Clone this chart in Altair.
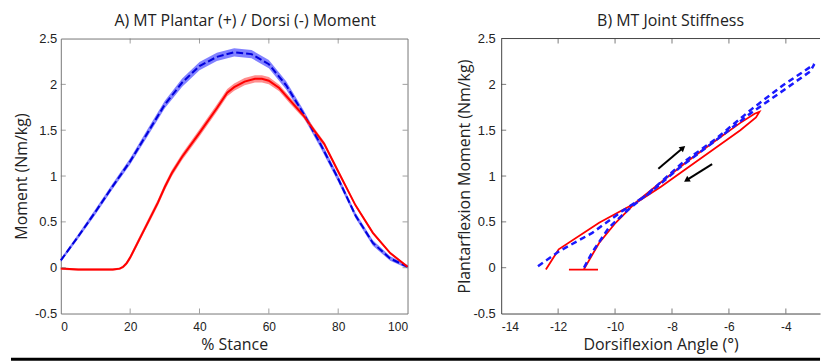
import altair as alt
import pandas as pd

# ---------------- Panel A: MT moment over stance ----------------
pct_blue = [0, 5, 10, 15, 20, 25, 30, 35, 40, 45, 50, 55, 60, 65, 70, 75, 80, 85, 90, 95, 100]
blue_mean = [0.08, 0.34, 0.61, 0.89, 1.16, 1.47, 1.78, 2.02, 2.20, 2.30, 2.35, 2.33, 2.22, 1.99,
             1.68, 1.34, 0.97, 0.57, 0.27, 0.10, 0.01]
blue_sd = [0.02, 0.025, 0.03, 0.03, 0.035, 0.04, 0.04, 0.045, 0.045, 0.045, 0.045, 0.045, 0.045,
           0.045, 0.04, 0.04, 0.035, 0.03, 0.03, 0.025, 0.02]

pct_red = [0, 5, 10, 15, 17, 18, 19, 20, 22, 24, 26, 28, 30, 32, 35, 40, 45, 48, 50, 53, 56, 58,
           60, 63, 66, 70, 73, 76, 80, 85, 90, 95, 100]
red_mean = [-0.01, -0.02, -0.02, -0.02, -0.01, 0.01, 0.05, 0.11, 0.26, 0.41, 0.56, 0.71, 0.88, 1.03,
            1.21, 1.47, 1.74, 1.91, 1.97, 2.03, 2.06, 2.06, 2.04, 1.96, 1.83, 1.66, 1.50, 1.35,
            1.05, 0.68, 0.38, 0.16, 0.01]
red_sd = [0.012, 0.012, 0.012, 0.012, 0.012, 0.015, 0.02, 0.025, 0.03, 0.03, 0.035, 0.035, 0.035,
          0.035, 0.035, 0.04, 0.04, 0.04, 0.04, 0.04, 0.04, 0.04, 0.04, 0.035, 0.035, 0.03, 0.03,
          0.025, 0.02, 0.015, 0.015, 0.012, 0.01]

a_xticks = [0, 20, 40, 60, 80, 100]
a_yticks = [-0.5, 0, 0.5, 1, 1.5, 2, 2.5]

# ---------------- Panel B: joint stiffness loops ----------------
blue_ang = [-11.09, -10.80, -10.21, -9.51, -8.80, -7.65, -6.48, -5.20, -4.10, -3.00,
            -3.15, -4.20, -5.30, -6.50, -7.70, -8.80, -9.74, -10.80, -11.96, -12.78]
blue_mom = [0.00, 0.17, 0.44, 0.64, 0.82, 1.14, 1.40, 1.73, 1.99, 2.22,
            2.14, 1.91, 1.67, 1.38, 1.10, 0.81, 0.62, 0.38, 0.18, 0.00]

red_ang = [-11.62, -10.60, -11.10, -10.56, -9.98, -9.28, -8.40, -7.50, -6.50, -5.60, -5.10, -4.93,
           -5.05, -5.60, -6.50, -7.50, -8.40, -9.20, -10.56, -11.98, -12.43]
red_mom = [-0.02, -0.02, -0.02, 0.27, 0.49, 0.71, 0.93, 1.15, 1.38, 1.58, 1.68, 1.70,
           1.64, 1.50, 1.30, 1.08, 0.88, 0.72, 0.49, 0.20, -0.02]

arrow_x = [-8.48, -6.59]
arrow_y = [1.08, 1.13]
arrow_x2 = [-7.64, -7.46]
arrow_y2 = [1.30, 0.96]
arrow_head_angle = [50, 238]

b_xticks = [-14, -12, -10, -8, -6, -4]
b_yticks = [-0.5, 0, 0.5, 1, 1.5, 2, 2.5]

# ---------------- styling ----------------
W1, W2, H = 348, 320, 276
LBL_FONT = "Liberation Sans"
TTL_FONT = "Open Sans"
TXT = "#222222"

dfA_blue = pd.DataFrame({"pct": pct_blue, "m": blue_mean,
                         "lo": [m - s for m, s in zip(blue_mean, blue_sd)],
                         "hi": [m + s for m, s in zip(blue_mean, blue_sd)]})
dfA_red = pd.DataFrame({"pct": pct_red, "m": red_mean,
                        "lo": [m - s for m, s in zip(red_mean, red_sd)],
                        "hi": [m + s for m, s in zip(red_mean, red_sd)]})

xsA = alt.Scale(domain=[0, 100], nice=False, zero=False)
ysA = alt.Scale(domain=[-0.5, 2.5], nice=False, zero=False)

def x_axis(vals):
    return alt.Axis(values=vals, ticks=False, tickSize=0, domain=False, grid=False,
                    labelExpr="toString(datum.value)", labelFont=LBL_FONT, labelFontSize=12,
                    labelColor=TXT, labelPadding=8, titleFont=TTL_FONT, titleFontSize=16,
                    titleFontWeight="normal", titleColor=TXT, titlePadding=4)

def y_axis(vals, pad, tpad, domain=False, color="#777"):
    return alt.Axis(values=vals, ticks=False, tickSize=0, domain=domain, domainColor=color,
                    grid=False, labelExpr="toString(datum.value)", labelFont=LBL_FONT,
                    labelFontSize=13, labelColor=TXT, labelPadding=pad, titleFont=TTL_FONT,
                    titleFontSize=16, titleFontWeight="normal", titleColor=TXT,
                    titlePadding=tpad)

A_XT = "% Stance"
A_YT = "Moment (Nm/kg)"
xA = alt.X("pct:Q", scale=xsA, axis=x_axis(a_xticks), title=A_XT)

band_blue = alt.Chart(dfA_blue).mark_area(color="#6b6bff", opacity=0.85).encode(
    x=xA, y=alt.Y("lo:Q", scale=ysA, axis=y_axis(a_yticks, 4, 5), title=A_YT), y2="hi:Q")
band_red = alt.Chart(dfA_red).mark_area(color="#ff7a7a", opacity=0.85).encode(
    x=xA, y=alt.Y("lo:Q", scale=ysA, title=A_YT), y2="hi:Q")
line_blue = alt.Chart(dfA_blue).mark_line(color="#0000dd", strokeWidth=2, strokeDash=[7, 3]).encode(
    x=xA, y=alt.Y("m:Q", scale=ysA, title=A_YT))
line_red = alt.Chart(dfA_red).mark_line(color="#ff0000", strokeWidth=2).encode(
    x=xA, y=alt.Y("m:Q", scale=ysA, title=A_YT))

FR_A = "#777777"
tA_x = pd.DataFrame({"v": a_xticks[1:-1]})
tA_y = pd.DataFrame({"v": a_yticks[1:-1]})
tick_bot = alt.Chart(tA_x).mark_tick(orient="vertical", size=5, thickness=1, color=FR_A, yOffset=-2.5).encode(
    x=alt.X("v:Q", scale=xsA), y=alt.datum(-0.5, scale=ysA))
tick_top = alt.Chart(tA_x).mark_tick(orient="vertical", size=5, thickness=1, color=FR_A, yOffset=2.5).encode(
    x=alt.X("v:Q", scale=xsA), y=alt.datum(2.5, scale=ysA))
tick_l = alt.Chart(tA_y).mark_tick(orient="horizontal", size=5, thickness=1, color=FR_A, xOffset=2.5).encode(
    y=alt.Y("v:Q", scale=ysA), x=alt.datum(0, scale=xsA))
tick_r = alt.Chart(tA_y).mark_tick(orient="horizontal", size=5, thickness=1, color=FR_A, xOffset=-2.5).encode(
    y=alt.Y("v:Q", scale=ysA), x=alt.datum(100, scale=xsA))

bottom_line = alt.Chart(pd.DataFrame({"z": [0]})).mark_rule(color="black", strokeWidth=3).encode(
    x=alt.value(-50), x2=alt.value(762), y=alt.value(322))

left = alt.layer(band_blue, band_red, line_blue, line_red, tick_bot, tick_top, tick_l, tick_r,
                 bottom_line).properties(
    width=W1, height=H,
    title=alt.TitleParams("A) MT Plantar (+) / Dorsi (-) Moment", font=TTL_FONT, fontSize=16,
                          fontWeight="normal", color=TXT, offset=4, dx=11),
    view=alt.ViewBackground(stroke=FR_A, strokeWidth=1))

# ---------------- right panel ----------------
FR_B = "#444444"
dfB_blue = pd.DataFrame({"ang": blue_ang, "mom": blue_mom, "i": list(range(len(blue_ang)))})
dfB_red = pd.DataFrame({"ang": red_ang, "mom": red_mom, "i": list(range(len(red_ang)))})
dfB_arrow = pd.DataFrame({"x": arrow_x, "y": arrow_y, "x2": arrow_x2, "y2": arrow_y2,
                          "a": arrow_head_angle})

xsB = alt.Scale(domain=[-14, -2.8], nice=False, zero=False)
ysB = alt.Scale(domain=[-0.5, 2.5], nice=False, zero=False)
B_XT = "Dorsiflexion Angle (°)"
B_YT = "Plantarflexion Moment (Nm/kg)"
xB_axis = alt.Axis(values=b_xticks, ticks=False, tickSize=0, domain=True, domainColor=FR_B,
                   grid=False, labelExpr="toString(datum.value)", labelFont=LBL_FONT,
                   labelFontSize=12, labelColor=TXT, labelPadding=8, titleFont=TTL_FONT,
                   titleFontSize=16, titleFontWeight="normal", titleColor=TXT, titlePadding=4)

red_loop = alt.Chart(dfB_red).mark_line(color="#ff0000", strokeWidth=1.8).encode(
    x=alt.X("ang:Q", scale=xsB, axis=xB_axis, title=B_XT),
    y=alt.Y("mom:Q", scale=ysB, axis=y_axis(b_yticks, 6, 0, True, FR_B), title=B_YT),
    order="i:Q")
blue_loop = alt.Chart(dfB_blue).mark_line(color="#1a1aff", strokeWidth=2.5, strokeDash=[6, 4]).encode(
    x=alt.X("ang:Q", scale=xsB, title=B_XT), y=alt.Y("mom:Q", scale=ysB, title=B_YT), order="i:Q")
arrow_shaft = alt.Chart(dfB_arrow).mark_rule(color="black", strokeWidth=2).encode(
    x=alt.X("x:Q", scale=xsB, title=B_XT), y=alt.Y("y:Q", scale=ysB, title=B_YT), x2="x2:Q", y2="y2:Q")
arrow_head = alt.Chart(dfB_arrow).mark_point(shape="triangle", filled=True, color="black", size=45,
                                             opacity=1).encode(
    x=alt.X("x2:Q", scale=xsB, title=B_XT), y=alt.Y("y2:Q", scale=ysB, title=B_YT),
    angle=alt.Angle("a:Q", scale=None))

tB_x = pd.DataFrame({"v": b_xticks[1:]})
tB_y = pd.DataFrame({"v": b_yticks[1:-1]})
tickB_bot = alt.Chart(tB_x).mark_tick(orient="vertical", size=5, thickness=1, color=FR_B, yOffset=-2.5).encode(
    x=alt.X("v:Q", scale=xsB), y=alt.datum(-0.5, scale=ysB))
tickB_top = alt.Chart(tB_x).mark_tick(orient="vertical", size=5, thickness=1, color=FR_B, yOffset=2.5).encode(
    x=alt.X("v:Q", scale=xsB), y=alt.datum(2.5, scale=ysB))
tickB_l = alt.Chart(tB_y).mark_tick(orient="horizontal", size=5, thickness=1, color=FR_B, xOffset=2.5).encode(
    y=alt.Y("v:Q", scale=ysB), x=alt.datum(-14, scale=xsB))
top_border = alt.Chart(pd.DataFrame({"z": [0]})).mark_rule(color=FR_B, strokeWidth=1).encode(
    x=alt.datum(-14, scale=xsB), x2=alt.datum(-2.8), y=alt.datum(2.5, scale=ysB))

right = alt.layer(red_loop, blue_loop, arrow_shaft, arrow_head, tickB_bot, tickB_top, tickB_l,
                  top_border).properties(
    width=W2, height=H,
    title=alt.TitleParams("B) MT Joint Stiffness", font=TTL_FONT, fontSize=16,
                          fontWeight="normal", color=TXT, offset=4, dx=10),
    view=alt.ViewBackground(stroke=None))

chart = alt.hconcat(left, right, spacing=94, bounds="flush").properties(
    padding={"left": 1, "top": 3, "right": 3, "bottom": 0}
).configure_view(stroke=None)

chart.save("out.html", embed_options={"renderer": "svg", "actions": False})
